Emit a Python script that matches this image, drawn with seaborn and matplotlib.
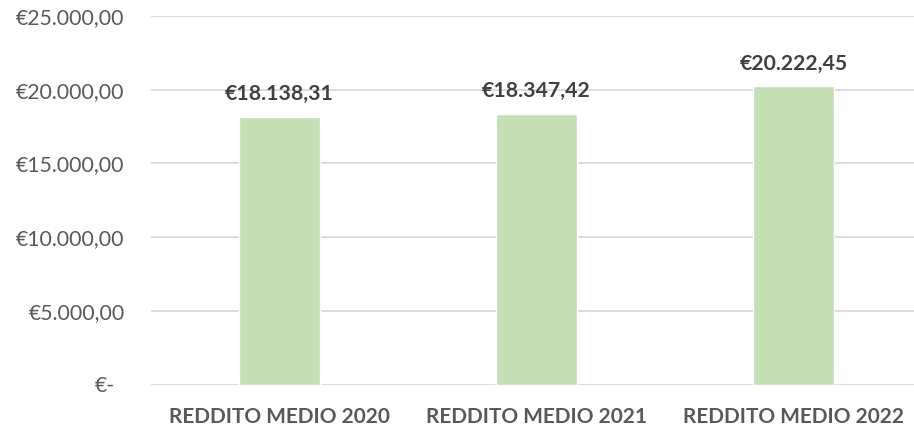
import matplotlib
matplotlib.use("Agg")
import matplotlib.pyplot as plt
import matplotlib.transforms as mtransforms
import seaborn as sns
import pandas as pd

categories = ["REDDITO MEDIO 2020", "REDDITO MEDIO 2021", "REDDITO MEDIO 2022"]
values = [18138.31, 18347.42, 20222.45]
value_labels = ["€18.138,31", "€18.347,42", "€20.222,45"]
yticks = [0, 5000, 10000, 15000, 20000, 25000]
ytick_labels = ["€-", "€5.000,00", "€10.000,00", "€15.000,00", "€20.000,00", "€25.000,00"]

sns.set_style("white")
plt.rcParams["font.family"] = ["Lato", "DejaVu Sans"]

df = pd.DataFrame({"cat": categories, "val": values})

W, H = 914, 428
fig = plt.figure(figsize=(W / 100, H / 100), dpi=100)
ax = fig.add_axes([151 / W, (H - 384.5) / H, 771 / W, 368.5 / H])

sns.barplot(data=df, x="cat", y="val", color="#C5E0B4", saturation=1, width=0.315, ax=ax, zorder=3)

ax.set_xlim(-0.5, 2.5)
ax.set_ylim(0, 25000)
ax.set_yticks(yticks)
ax.set_yticklabels(ytick_labels, fontsize=15.3, color="#595959")
ax.set_xticks(range(len(categories)))
ax.set_xticklabels(categories, fontsize=15, fontweight="bold", color="#595959")
ax.set_xlabel("")
ax.set_ylabel("")
ax.tick_params(axis="y", length=0, pad=19)
ax.tick_params(axis="x", length=0, pad=16.5)

for t in yticks:
    ax.axhline(t, color="#D9D9D9", lw=1.3, zorder=1)

for s in ax.spines.values():
    s.set_visible(False)

# shift the "€-" label left like accounting format
lbl = ax.get_yticklabels()[0]
lbl.set_transform(lbl.get_transform() + mtransforms.ScaledTranslation(-10 / 100, 0, fig.dpi_scale_trans))

for i, (v, s) in enumerate(zip(values, value_labels)):
    ax.annotate(s, xy=(i, v), xytext=(0, 16.5), textcoords="offset points",
                ha="center", va="center", fontsize=15.3, fontweight="bold", color="#404040")

fig.savefig("out.png", dpi=100)
